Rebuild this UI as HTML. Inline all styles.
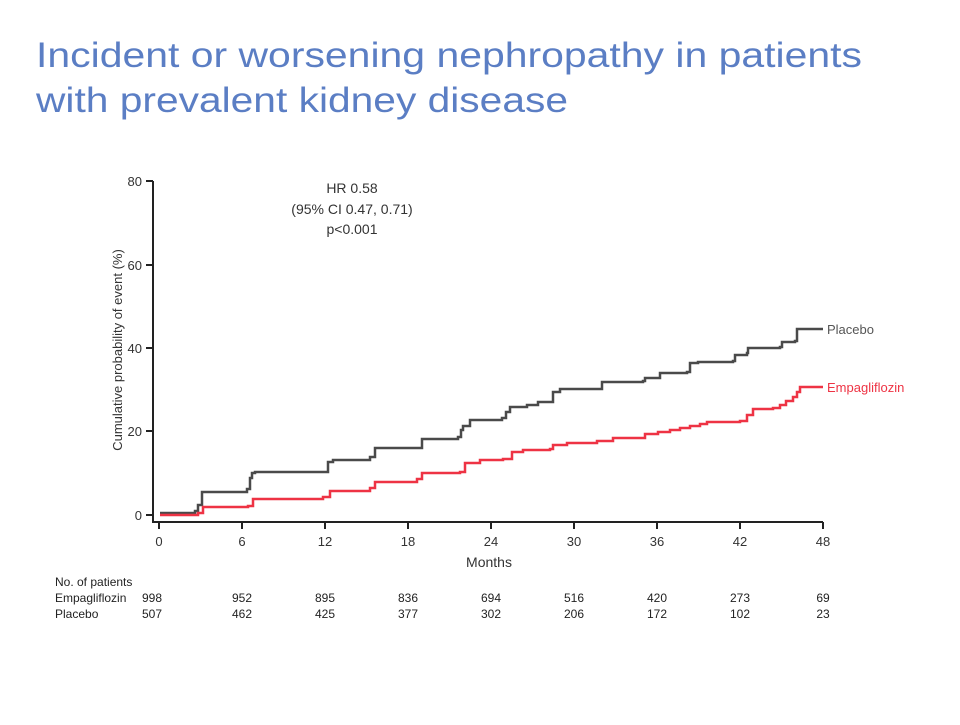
<!DOCTYPE html>
<html><head><meta charset="utf-8"><style>
html,body{margin:0;padding:0;background:#fff;}
body{width:960px;height:720px;overflow:hidden;}
</style></head><body>
<svg width="960" height="720" viewBox="0 0 960 720" xmlns="http://www.w3.org/2000/svg" font-family="Liberation Sans, sans-serif">
<text x="36" y="67" font-size="35" fill="#5b7ec4" textLength="826" lengthAdjust="spacingAndGlyphs">Incident or worsening nephropathy in patients</text>
<text x="36" y="112" font-size="35" fill="#5b7ec4" textLength="532" lengthAdjust="spacingAndGlyphs">with prevalent kidney disease</text>
<g stroke="#222" stroke-width="2" fill="none">
<path d="M153,181 V522 H823"/>
<path d="M146,181H153 M146,265H153 M146,348H153 M146,431H153 M146,515H153"/>
<path d="M159,522v7 M242,522v7 M325,522v7 M408,522v7 M491,522v7 M574,522v7 M657,522v7 M740,522v7 M823,522v7"/>
</g>
<g font-size="13" fill="#333" text-anchor="end">
<text x="142" y="186">80</text><text x="142" y="270">60</text><text x="142" y="353">40</text><text x="142" y="436">20</text><text x="142" y="520">0</text>
</g>
<g font-size="13" fill="#333" text-anchor="middle">
<text x="159" y="546">0</text><text x="242" y="546">6</text><text x="325" y="546">12</text><text x="408" y="546">18</text><text x="491" y="546">24</text><text x="574" y="546">30</text><text x="657" y="546">36</text><text x="740" y="546">42</text><text x="823" y="546">48</text>
<text x="489" y="567" font-size="14">Months</text>
<text x="352" y="193" font-size="14">HR 0.58</text>
<text x="352" y="214" font-size="14">(95% CI 0.47, 0.71)</text>
<text x="352" y="234" font-size="14">p&lt;0.001</text>
</g>
<text transform="translate(122,350) rotate(-90)" font-size="13" fill="#333" text-anchor="middle">Cumulative probability of event (%)</text>
<path fill="none" stroke="#4a4a4a" stroke-width="2.5" d="M160,513 H195 V511 H198 V505 H202 V492 H247 V489 H250 V478 H252 V473 H255 V472 H325 V472 H328 V462 H333 V460 H370 V457 H375 V448 H417 H422 V439 H458 V437 H461 V430 H463 V426 H470 V420 H502 V418 H506 V412 H510 V407 H527 V405 H538 V402 H550 H553 V392 H560 V389 H588 H602 V382 H643 V381 H645 V378 H660 V373 H687 V372 H690 V363 H698 V362 H733 V361 H735 V355 H747 V353 H748 V348 H780 V347 H782 V342 H795 V341 H797 V329 H823"/>
<path fill="none" stroke="#ee3344" stroke-width="2.5" d="M160,515 H198 V513 H203 V507 H248 V506 H253 V499 H323 V497 H330 V491 H370 V488 H375 V482 H417 V479 H422 V473 H460 V472 H465 V463 H480 V460 H503 V459 H512 V452 H523 V450 H550 V449 H553 V445 H567 V443 H595 H597 V441 H613 V438 H643 H645 V434 H658 V432 H670 V430 H680 V428 H690 V426 H700 V424 H707 V422 H740 V421 H747 V415 H753 V409 H773 V408 H780 V405 H786 V401 H793 V397 H797 V392 H800 V387 H823"/>
<text x="827" y="334" font-size="13" fill="#555">Placebo</text>
<text x="827" y="392" font-size="13" fill="#ee3344">Empagliflozin</text>
<g font-size="12" fill="#222">
<text x="55" y="586">No. of patients</text>
<text x="55" y="602">Empagliflozin</text>
<text x="55" y="618">Placebo</text>
</g>
<g font-size="12" fill="#222" text-anchor="middle">
<text x="152" y="602">998</text><text x="242" y="602">952</text><text x="325" y="602">895</text><text x="408" y="602">836</text><text x="491" y="602">694</text><text x="574" y="602">516</text><text x="657" y="602">420</text><text x="740" y="602">273</text><text x="823" y="602">69</text>
<text x="152" y="618">507</text><text x="242" y="618">462</text><text x="325" y="618">425</text><text x="408" y="618">377</text><text x="491" y="618">302</text><text x="574" y="618">206</text><text x="657" y="618">172</text><text x="740" y="618">102</text><text x="823" y="618">23</text>
</g>
</svg>
</body></html>
